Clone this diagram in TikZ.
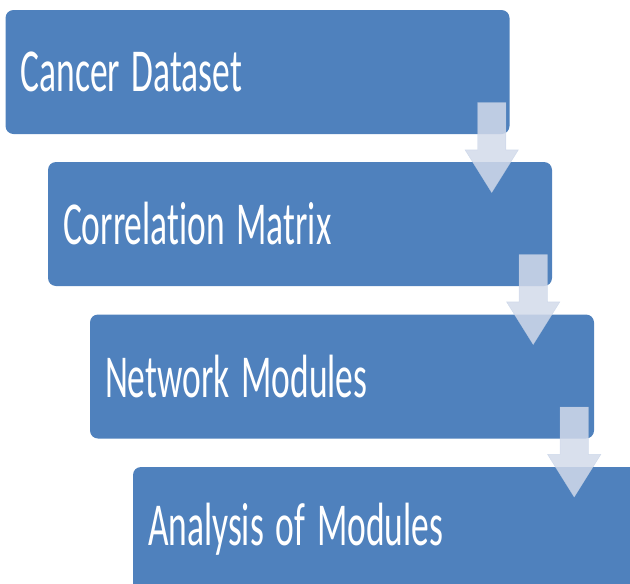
\documentclass[tikz,border=0pt]{standalone}
\usepackage{fontspec}
\usepackage{graphicx}
\setmainfont{Carlito}[Ligatures=NoCommon]
\usetikzlibrary{shapes.arrows}
\definecolor{stageblue}{RGB}{79,129,189}
\definecolor{flowgrey}{RGB}{210,218,234}
\newcommand{\tallText}[1]{\scalebox{1}[1.72]{#1}}
\tikzset{
  stagebox/.style={fill=stageblue, rounded corners=8pt, minimum width=504pt,
    minimum height=124pt, text width=474pt, inner xsep=15pt, align=left,
    text=white, font=\fontsize{35.5}{40}\selectfont},
  downflow/.style={single arrow, fill=flowgrey, fill opacity=0.85,
    draw=flowgrey!85!stageblue, draw opacity=0.6, rotate=-90,
    inner xsep=0pt, inner ysep=14pt,
    minimum height=90pt, minimum width=53pt, single arrow head extend=12.5pt,
    single arrow tip angle=64}
}
\begin{document}
\begin{tikzpicture}[x=1pt,y=-1pt]
      \useasboundingbox (0,0) rectangle (630,584);
      \clip (0,0) rectangle (630,584);
      \node[stagebox] (data) at (257.5,72) {\tallText{Cancer Dataset}};
      \node[stagebox] (corr) at (300,224) {\tallText{Correlation Matrix}};
      \node[stagebox] (net) at (342,376.5) {\tallText{Network Modules}};
      \node[stagebox] (anal) at (385,529) {\tallText{Analysis of Modules}};
      \node[downflow] (f1) at ([xshift=-18pt,yshift=-2pt]data.south east) {};
      \node[downflow] (f2) at ([xshift=-19pt,yshift=-2pt]corr.south east) {};
      \node[downflow] (f3) at ([xshift=-20pt,yshift=-2pt]net.south east) {};
    \end{tikzpicture}
\end{document}
